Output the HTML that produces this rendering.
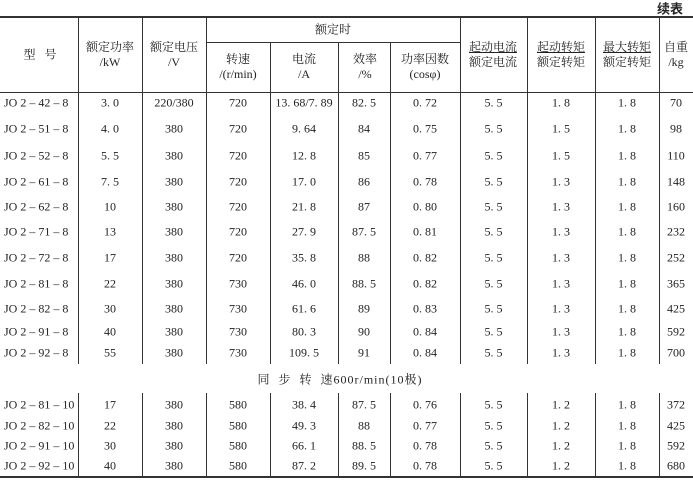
<!DOCTYPE html>
<html><head><meta charset="utf-8"><style>
body{margin:0;width:693px;height:480px;background:#fff;position:relative;overflow:hidden;font-family:"Liberation Serif","Noto Serif CJK SC",serif;color:#222;font-size:12px}
.t{position:absolute;transform:translate(-50%,-50%);white-space:nowrap;text-align:center;line-height:15px}
.l{position:absolute;background:#333}
</style></head><body>
<div class="t" style="left:670px;top:8px;font-weight:bold;font-family:'Noto Sans CJK SC',sans-serif;font-size:13px">续表</div>
<div class="l" style="left:0;top:16px;width:693px;height:2px"></div>
<div class="l" style="left:206px;top:42px;width:254px;height:1px"></div>
<div class="l" style="left:0;top:92px;width:693px;height:1px"></div>
<div class="l" style="left:0;top:476px;width:693px;height:2px"></div>
<div id="v"></div>
<div class="t" style="left:40px;top:55px">型&nbsp;&nbsp;&nbsp;号</div>
<div class="t" style="left:110px;top:55px">额定功率<br>/kW</div>
<div class="t" style="left:174px;top:55px">额定电压<br>/V</div>
<div class="t" style="left:333px;top:30px">额定时</div>
<div class="t" style="left:238px;top:67px">转速<br>/(r/min)</div>
<div class="t" style="left:304px;top:67px">电流<br>/A</div>
<div class="t" style="left:365px;top:67px">效率<br>/%</div>
<div class="t" style="left:425px;top:67px">功率因数<br>(cosφ)</div>
<div class="t" style="left:493px;top:55px"><span style="text-decoration:underline">起动电流</span><br>额定电流</div>
<div class="t" style="left:561px;top:55px"><span style="text-decoration:underline">起动转矩</span><br>额定转矩</div>
<div class="t" style="left:627px;top:55px"><span style="text-decoration:underline">最大转矩</span><br>额定转矩</div>
<div class="t" style="left:676px;top:55px">自重<br>/kg</div>
<div class="t" style="left:340px;top:380px;letter-spacing:1px">同&nbsp;&nbsp;步&nbsp;&nbsp;转&nbsp;&nbsp;速600r/min(10极)</div>
<div id="d"></div>
<script>
var xs=[0,78,142,206,270,338,390,460,527,595,659,693];
var v=document.getElementById('v'),h='';
for(var i=1;i<xs.length-1;i++){
 var tp=(xs[i]>206&&xs[i]<460)?42:17;
 h+='<div class="l" style="left:'+xs[i]+'px;top:'+tp+'px;width:1px;height:'+(364-tp)+'px"></div>';
 h+='<div class="l" style="left:'+xs[i]+'px;top:393px;width:1px;height:84px"></div>';
}
v.innerHTML=h;
var rows=[
["JO 2 – 42 – 8","3. 0","220/380","720","13. 68/7. 89","82. 5","0. 72","5. 5","1. 8","1. 8","70"],
["JO 2 – 51 – 8","4. 0","380","720","9. 64","84","0. 75","5. 5","1. 5","1. 8","98"],
["JO 2 – 52 – 8","5. 5","380","720","12. 8","85","0. 77","5. 5","1. 5","1. 8","110"],
["JO 2 – 61 – 8","7. 5","380","720","17. 0","86","0. 78","5. 5","1. 3","1. 8","148"],
["JO 2 – 62 – 8","10","380","720","21. 8","87","0. 80","5. 5","1. 3","1. 8","160"],
["JO 2 – 71 – 8","13","380","720","27. 9","87. 5","0. 81","5. 5","1. 3","1. 8","232"],
["JO 2 – 72 – 8","17","380","720","35. 8","88","0. 82","5. 5","1. 3","1. 8","252"],
["JO 2 – 81 – 8","22","380","730","46. 0","88. 5","0. 82","5. 5","1. 3","1. 8","365"],
["JO 2 – 82 – 8","30","380","730","61. 6","89","0. 83","5. 5","1. 3","1. 8","425"],
["JO 2 – 91 – 8","40","380","730","80. 3","90","0. 84","5. 5","1. 3","1. 8","592"],
["JO 2 – 92 – 8","55","380","730","109. 5","91","0. 84","5. 5","1. 3","1. 8","700"],
["JO 2 – 81 – 10","17","380","580","38. 4","87. 5","0. 76","5. 5","1. 2","1. 8","372"],
["JO 2 – 82 – 10","22","380","580","49. 3","88","0. 77","5. 5","1. 2","1. 8","425"],
["JO 2 – 91 – 10","30","380","580","66. 1","88. 5","0. 78","5. 5","1. 2","1. 8","592"],
["JO 2 – 92 – 10","40","380","580","87. 2","89. 5","0. 78","5. 5","1. 2","1. 8","680"]];
var ys=[103,129,156,182,207,232,258,284,309,332,353,405,426,446,466];
var d='';
rows.forEach(function(r,k){r.forEach(function(c,j){
 if(j==0)d+='<div class="t" style="left:4px;top:'+ys[k]+'px;transform:translate(0,-50%)">'+c+'</div>';
 else d+='<div class="t" style="left:'+((xs[j]+xs[j+1])/2)+'px;top:'+ys[k]+'px">'+c+'</div>';
});});
document.getElementById('d').innerHTML=d;
</script>
</body></html>
